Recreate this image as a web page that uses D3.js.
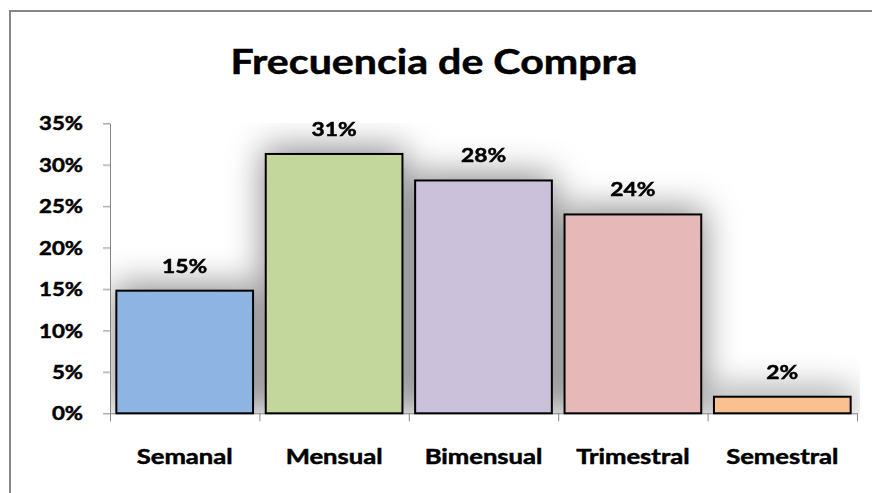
<!DOCTYPE html>
<html>
<head>
<meta charset="utf-8">
<script src="https://cdn.jsdelivr.net/npm/d3@7"></script>
<style>
  html, body { margin: 0; background: #fff; overflow: hidden; }
  svg { display: block; }
  svg text { font-family: Lato, "Open Sans", sans-serif; font-weight: bold; fill: #000; stroke: #000; stroke-width: 0.5px; }
</style>
</head>
<body>
<div class="chart"></div>
<script>
// data
var categories = ["Semanal", "Mensual", "Bimensual", "Trimestral", "Semestral"];
var values = [0.148, 0.313, 0.281, 0.240, 0.020];
var barColors = ["#8eb4e3", "#c3d69b", "#ccc1da", "#e6b9b8", "#fac090"];
var yTicks = [0, 0.05, 0.10, 0.15, 0.20, 0.25, 0.30, 0.35];
var title = "Frecuencia de Compra";

var svgWidth = 872, svgHeight = 493;
var margin = { top: 123.3, left: 110, right: 15, bottom: 79.7 };
var width = svgWidth - margin.left - margin.right;
var height = svgHeight - margin.top - margin.bottom;
var sx = 1.17; // text in the picture is a bit stretched sideways

var svg = d3.select(".chart").append("svg")
  .attr("width", svgWidth)
  .attr("height", svgHeight);

// outer chart frame: only top and left edges are inside the picture
svg.append("path")
  .attr("d", `M10,${svgHeight + 5}V11H${svgWidth + 5}`)
  .attr("fill", "none")
  .attr("stroke", "#868686")
  .attr("stroke-width", 2);

var defs = svg.append("defs");
defs.append("clipPath").attr("id", "plotClip")
  .append("rect")
  .attr("x", 0).attr("y", 0)
  .attr("width", width + 3).attr("height", height);
var blur = defs.append("filter").attr("id", "soft")
  .attr("x", "-50%").attr("y", "-50%").attr("width", "200%").attr("height", "200%");
blur.append("feGaussianBlur").attr("stdDeviation", 17);

var chartGroup = svg.append("g")
  .attr("transform", `translate(${margin.left}, ${margin.top})`);

// scales
var x = d3.scaleBand()
  .domain(categories)
  .range([0, width])
  .paddingInner(0.085)
  .paddingOuter(0.0425);

var xEdges = d3.scaleLinear().domain([0, categories.length]).range([0, width]);

var y = d3.scaleLinear()
  .domain([0, 0.35])
  .range([height, 0]);

var data = categories.map(function(c, i) {
  return { cat: c, value: values[i], color: barColors[i] };
});

// soft shadow behind the bars
chartGroup.append("g")
  .attr("clip-path", "url(#plotClip)")
  .append("g")
  .attr("filter", "url(#soft)")
  .selectAll("rect")
  .data(data)
  .enter()
  .append("rect")
  .attr("x", d => x(d.cat) - 3)
  .attr("y", d => y(d.value) - 6)
  .attr("width", x.bandwidth() + 6)
  .attr("height", d => height - y(d.value) + 6)
  .attr("fill", "#000")
  .attr("opacity", 0.45);

// axes
var yAxis = d3.axisLeft(y)
  .tickValues(yTicks)
  .tickFormat(d3.format(".0%"))
  .tickSize(7)
  .tickSizeOuter(0);

var yG = chartGroup.append("g").call(yAxis);
yG.select(".domain").attr("stroke", "#868686");
yG.selectAll(".tick line").attr("stroke", "#868686");
yG.selectAll(".tick text")
  .attr("x", -27 / sx)
  .attr("dy", "0.35em")
  .attr("transform", `scale(${sx},1)`)
  .style("font-size", "19px");

var xAxis = d3.axisBottom(xEdges)
  .tickValues(d3.range(categories.length + 1))
  .tickFormat("")
  .tickSize(8)
  .tickSizeOuter(0);

var xG = chartGroup.append("g")
  .attr("transform", `translate(0, ${height})`)
  .call(xAxis);
xG.select(".domain").attr("stroke", "#868686");
xG.selectAll(".tick line").attr("stroke", "#868686");

// bars
chartGroup.selectAll(".bar")
  .data(data)
  .enter()
  .append("rect")
  .attr("class", "bar")
  .attr("x", d => x(d.cat))
  .attr("y", d => y(d.value))
  .attr("width", x.bandwidth())
  .attr("height", d => height - y(d.value))
  .attr("fill", d => d.color)
  .attr("stroke", "#000")
  .attr("stroke-width", 2);

// value labels
chartGroup.selectAll(".vlabel")
  .data(data)
  .enter()
  .append("text")
  .attr("class", "vlabel")
  .attr("transform", d => `translate(${x(d.cat) + x.bandwidth() / 2}, ${y(d.value) - 18}) scale(${sx},1)`)
  .attr("text-anchor", "middle")
  .style("font-size", "19.5px")
  .text(d => Math.round(d.value * 100) + "%");

// category labels
chartGroup.selectAll(".clabel")
  .data(data)
  .enter()
  .append("text")
  .attr("class", "clabel")
  .attr("transform", d => `translate(${x(d.cat) + x.bandwidth() / 2}, ${height + 50.5}) scale(${sx + 0.05},1)`)
  .attr("text-anchor", "middle")
  .style("font-size", "21px")
  .text(d => d.cat);

// title
svg.append("text")
  .attr("transform", `translate(434, 74) scale(1.21,1)`)
  .attr("text-anchor", "middle")
  .style("font-size", "34px")
  .text(title);
</script>
</body>
</html>
